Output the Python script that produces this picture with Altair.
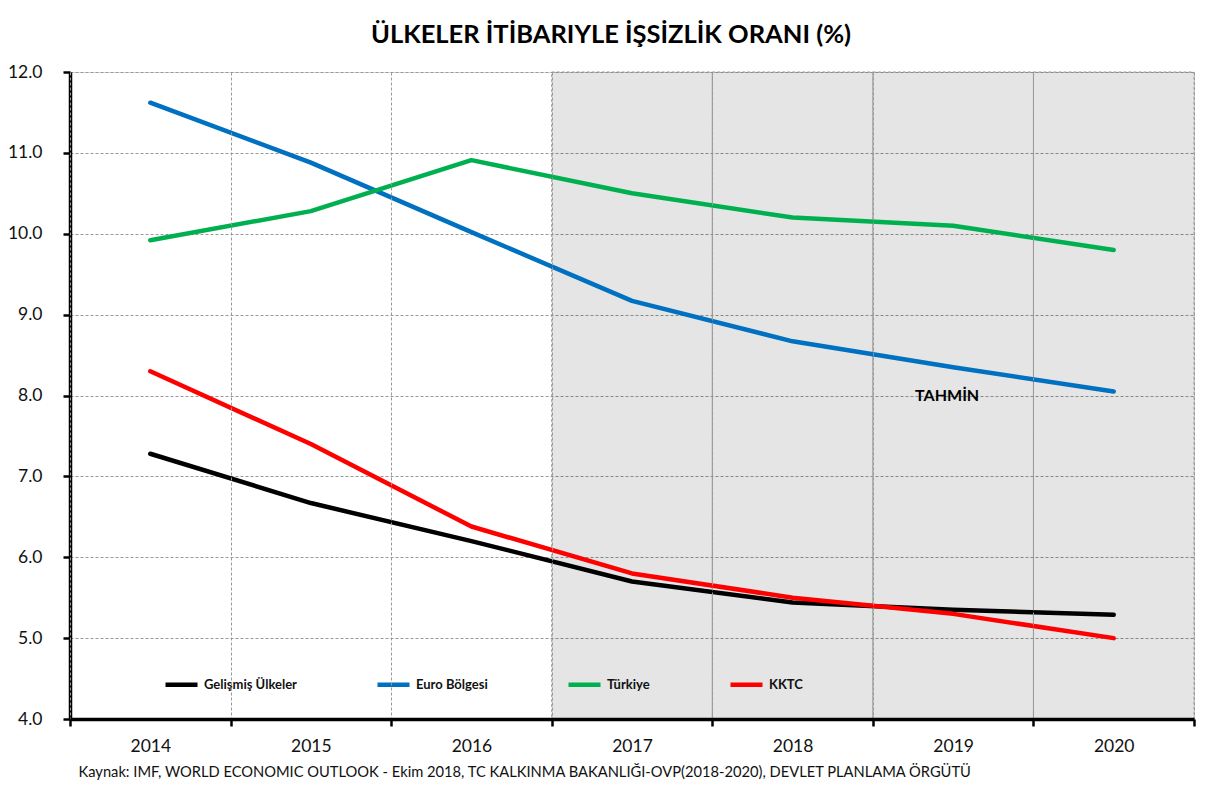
import altair as alt
import pandas as pd

years = ["2014", "2015", "2016", "2017", "2018", "2019", "2020"]
series_names = ["Gelişmiş Ülkeler", "Euro Bölgesi", "Türkiye", "KKTC"]
series_colors = ["#000000", "#0070C0", "#00B050", "#FF0000"]
gelismis = [7.28, 6.67, 6.20, 5.70, 5.44, 5.35, 5.29]
euro = [11.62, 10.88, 10.02, 9.17, 8.67, 8.35, 8.05]
turkiye = [9.92, 10.28, 10.91, 10.50, 10.20, 10.10, 9.80]
kktc = [8.30, 7.40, 6.38, 5.80, 5.50, 5.30, 5.00]
forecast_years = ["2017", "2018", "2019", "2020"]
y_ticks = [4, 5, 6, 7, 8, 9, 10, 11, 12]
title_text = "ÜLKELER İTİBARIYLE İŞSİZLİK ORANI (%)"
source_text = "Kaynak: IMF, WORLD ECONOMIC OUTLOOK - Ekim 2018,  TC KALKINMA BAKANLIĞI-OVP(2018-2020), DEVLET PLANLAMA ÖRGÜTÜ"
tahmin_label = "TAHMİN"
tahmin_pos = ("2019", 8.0)

FONT = "Lato"

rows = []
for name, vals in zip(series_names, [gelismis, euro, turkiye, kktc]):
    for i, (yr, v) in enumerate(zip(years, vals)):
        rows.append({"Yıl": yr, "Seri": name, "Oran": v, "ord": i})
df = pd.DataFrame(rows)

shade_df = pd.DataFrame({"Yıl": forecast_years, "lo": [y_ticks[0]] * len(forecast_years),
                         "hi": [y_ticks[-1]] * len(forecast_years)})
label_df = pd.DataFrame({"Yıl": [tahmin_pos[0]], "Oran": [tahmin_pos[1]], "t": [tahmin_label]})

x_scale = alt.Scale(type="band", domain=years, paddingInner=0, paddingOuter=0)
y_scale = alt.Scale(domain=[y_ticks[0], y_ticks[-1]], nice=False, zero=False)

x_axis = alt.Axis(
    title=source_text, titleX=8, titleY=53, titleAlign="left", titleBaseline="middle",
    titleFont=FONT, titleFontSize=14.7, titleFontWeight="normal", titleColor="#111111",
    labelAngle=0, labelFont=FONT, labelFontSize=17.5, labelColor="#111111", labelPadding=11,
    tickBand="extent", tickSize=7, tickWidth=2.5, tickColor="#000000",
    domainColor="#000000", domainWidth=3.5,
    grid=True, gridColor="#999999", gridDash=[3, 2], gridWidth=1,
)
y_axis = alt.Axis(
    title=None, values=y_ticks, format=".1f",
    labelFont=FONT, labelFontSize=17.5, labelColor="#111111", labelPadding=21,
    tickSize=7, tickWidth=2.5, tickColor="#000000",
    domainColor="#000000", domainWidth=3.5,
    grid=True, gridColor="#999999", gridDash=[3, 2], gridWidth=1,
)

shade = alt.Chart(shade_df).mark_rect(
    fill="#000000", fillOpacity=0.1, stroke="#9a9a9a", strokeDash=[3, 2], strokeWidth=1
).encode(
    x=alt.X("Yıl:O", scale=x_scale, axis=x_axis),
    y=alt.Y("lo:Q", scale=y_scale, axis=y_axis),
    y2="hi:Q",
)

lines = alt.Chart(df).mark_line(strokeWidth=4.5, strokeCap="round", strokeJoin="round").encode(
    x=alt.X("Yıl:O", scale=x_scale),
    y=alt.Y("Oran:Q", scale=y_scale),
    color=alt.Color(
        "Seri:N",
        scale=alt.Scale(domain=series_names, range=series_colors),
        legend=alt.Legend(
            orient="none", legendX=93, legendY=594, direction="horizontal", title=None,
            symbolType="stroke", symbolSize=1024, symbolStrokeWidth=4.5,
            labelFont=FONT, labelFontSize=13, labelFontWeight="bold", labelColor="#111111",
            labelOffset=4, columnPadding=71, padding=0,
        ),
    ),
    order="ord:Q",
)

tahmin = alt.Chart(label_df).mark_text(
    font=FONT, fontSize=16, fontWeight="bold", color="#000000", dx=-6
).encode(
    x=alt.X("Yıl:O", scale=x_scale),
    y=alt.Y("Oran:Q", scale=y_scale),
    text="t:N",
)

chart = alt.layer(shade, lines, tahmin).properties(
    width=1124, height=647,
    autosize=alt.AutoSizeParams(type="none"),
    padding={"left": 62, "top": 64, "right": 9, "bottom": 62},
    title=alt.Title(title_text, font=FONT, fontSize=25.5, fontWeight="bold", color="#000000",
                    anchor="middle", dx=-21, offset=15),
).configure_view(stroke=None).configure(background="#ffffff")

chart.save("out.html", embed_options={"renderer": "svg", "actions": False})
